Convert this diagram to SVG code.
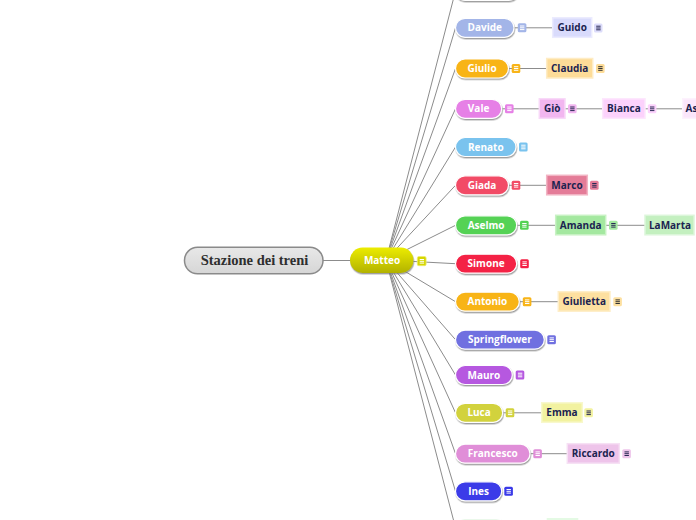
<svg xmlns="http://www.w3.org/2000/svg" xmlns:xlink="http://www.w3.org/1999/xlink" width="696" height="520" viewBox="0 0 696 520">
<defs>
<style>
.ln{stroke:#8c8c8c;stroke-width:1;fill:none}
.c text{font-family:"Open Sans","Noto Sans",sans-serif;font-weight:bold;font-size:10px;fill:#fff;text-anchor:middle}
.g text{font-family:"Open Sans","Noto Sans",sans-serif;font-weight:bold;font-size:10px;fill:#1b2350;text-anchor:middle}
.p{stroke:#fff;stroke-width:1.2;filter:url(#sh)}
.b{stroke-width:1.5}
</style>
<filter id="sh" x="-20%" y="-30%" width="140%" height="170%">
<feDropShadow dx="0.6" dy="1.4" stdDeviation="0.7" flood-color="#777" flood-opacity="0.7"/>
</filter>
<linearGradient id="gm" x1="0" y1="0" x2="0" y2="1">
<stop offset="0" stop-color="#ecec00"/><stop offset="1" stop-color="#b2b200"/>
</linearGradient>
<linearGradient id="gr" x1="0" y1="0" x2="0" y2="1">
<stop offset="0" stop-color="#e8e8e8"/><stop offset="1" stop-color="#d6d6d6"/>
</linearGradient>
<path id="nl" d="M2.2 2.7h4.4M2.2 4.5h4.4M2.2 6.3h4.4" stroke-width="1" fill="none"/>
</defs>
<rect width="696" height="520" fill="#fff"/>

<g id="connectors">
<line class="ln" x1="323" y1="260.5" x2="350" y2="260.5"/>
<line class="ln" x1="386" y1="260" x2="455.5" y2="-9"/>
<line class="ln" x1="386" y1="260" x2="455.5" y2="27.8"/>
<line class="ln" x1="386" y1="260" x2="455.5" y2="68.5"/>
<line class="ln" x1="386" y1="260" x2="455.5" y2="108.8"/>
<line class="ln" x1="386" y1="260" x2="455.5" y2="147"/>
<line class="ln" x1="386" y1="260" x2="455.5" y2="185.3"/>
<line class="ln" x1="386" y1="260" x2="455.5" y2="225.3"/>
<line class="ln" x1="386" y1="260" x2="455.5" y2="263.7"/>
<line class="ln" x1="386" y1="260" x2="455.5" y2="301.7"/>
<line class="ln" x1="386" y1="260" x2="455.5" y2="339.7"/>
<line class="ln" x1="386" y1="260" x2="455.5" y2="375"/>
<line class="ln" x1="386" y1="260" x2="455.5" y2="412.8"/>
<line class="ln" x1="386" y1="260" x2="455.5" y2="453.7"/>
<line class="ln" x1="386" y1="260" x2="455.5" y2="491.3"/>
<line class="ln" x1="386" y1="260" x2="455.5" y2="527.8"/>
<line class="ln" x1="514" y1="27.8" x2="552.7" y2="27.8"/>
<line class="ln" x1="508.5" y1="68.5" x2="546.7" y2="68.5"/>
<line class="ln" x1="501.7" y1="108.8" x2="539.3" y2="108.8"/>
<line class="ln" x1="565" y1="108.8" x2="602.7" y2="108.8"/>
<line class="ln" x1="645" y1="108.8" x2="682.7" y2="108.8"/>
<line class="ln" x1="508.5" y1="185.3" x2="546.7" y2="185.3"/>
<line class="ln" x1="516.7" y1="225.3" x2="555.7" y2="225.3"/>
<line class="ln" x1="605.7" y1="225.3" x2="645" y2="225.3"/>
<line class="ln" x1="519.3" y1="301.7" x2="558.3" y2="301.7"/>
<line class="ln" x1="502.7" y1="412.8" x2="541.7" y2="412.8"/>
<line class="ln" x1="530" y1="453.7" x2="567.3" y2="453.7"/>
<line class="ln" x1="505.5" y1="527.8" x2="546.7" y2="527.8"/>
</g>

<g id="root">
<rect x="184.5" y="247.3" width="138.5" height="26.5" rx="13" fill="url(#gr)" stroke="#8a8a8a" stroke-width="1.5"/>
<text x="254.5" y="265.3" font-family="'Liberation Serif',serif" font-weight="bold" font-size="14.5" fill="#2e2e2e" text-anchor="middle">Stazione dei treni</text>
</g>

<g id="matteo" class="c">
<rect x="350" y="247.5" width="63.5" height="25.5" rx="12.5" fill="url(#gm)" filter="url(#sh)"/>
<text x="382" y="264">Matteo</text>
<rect x="417.3" y="256.5" width="8.8" height="9.2" rx="1.5" fill="#d6d600" stroke="#eeee70" stroke-width="0.8"/>
<use xlink:href="#nl" x="417.5" y="256.8" stroke="#fff"/>
</g>

<g id="top" class="c">
<rect class="p" x="455.5" y="-18.5" width="62.5" height="19" rx="9.5" fill="#e4e4e4"/>
</g>

<g id="davide" class="c">
<rect class="p" x="455.5" y="18.3" width="58.5" height="19" rx="9.5" fill="#a3b5e8"/>
<text x="484.8" y="31.3">Davide</text>
<rect x="517.8" y="23.3" width="8.6" height="9" rx="1.5" fill="#a3b5e8"/>
<use xlink:href="#nl" x="517.8" y="23.3" stroke="#fff"/>
</g>
<g id="guido" class="g">
<rect class="b" x="552.7" y="17.8" width="39" height="19.5" fill="#d9dbfc" stroke="#ebebfe"/>
<text x="572.2" y="31.3">Guido</text>
<rect x="594" y="23.5" width="8.5" height="9" rx="1.5" fill="#dcdcfa"/>
<use xlink:href="#nl" x="594" y="23.5" stroke="#2a2a55"/>
</g>

<g id="giulio" class="c">
<rect class="p" x="455.5" y="59" width="53" height="19" rx="9.5" fill="#f8b418"/>
<text x="482" y="72">Giulio</text>
<rect x="511.7" y="64" width="8.6" height="9" rx="1.5" fill="#f8b418"/>
<use xlink:href="#nl" x="511.7" y="64" stroke="#fff"/>
</g>
<g id="claudia" class="g">
<rect class="b" x="546.7" y="58.5" width="46" height="19.5" fill="#fddc98" stroke="#feecc4"/>
<text x="569.7" y="72">Claudia</text>
<rect x="596" y="64" width="8.6" height="9" rx="1.5" fill="#fddc98"/>
<use xlink:href="#nl" x="596" y="64" stroke="#333"/>
</g>

<g id="vale" class="c">
<rect class="p" x="455.5" y="99.3" width="46.2" height="19" rx="9.5" fill="#e680e6"/>
<text x="478.6" y="112.3">Vale</text>
<rect x="505" y="104.3" width="8.6" height="9" rx="1.5" fill="#e680e6"/>
<use xlink:href="#nl" x="505" y="104.3" stroke="#fff"/>
</g>
<g id="gio" class="g">
<rect class="b" x="539.3" y="98.8" width="25.7" height="19.5" fill="#f2b6f0" stroke="#f8d8f8"/>
<text x="552.2" y="112.3">Giò</text>
<rect x="568" y="104.3" width="8.6" height="9" rx="1.5" fill="#f2b6f0"/>
<use xlink:href="#nl" x="568" y="104.3" stroke="#2a2a55"/>
</g>
<g id="bianca" class="g">
<rect class="b" x="602.7" y="98.8" width="42.3" height="19.5" fill="#fcd2fc" stroke="#fde6fd"/>
<text x="623.9" y="112.3">Bianca</text>
<rect x="647.8" y="104.3" width="8.6" height="9" rx="1.5" fill="#fcd2fc"/>
<use xlink:href="#nl" x="647.8" y="104.3" stroke="#2a2a55"/>
</g>
<g id="as" class="g">
<rect class="b" x="682.7" y="98.8" width="30" height="19.5" fill="#fbe6fb" stroke="#fdf2fd"/>
<text x="685.5" y="112.3" style="text-anchor:start">As</text>
</g>

<g id="renato" class="c">
<rect class="p" x="455.5" y="137.5" width="60.5" height="19" rx="9.5" fill="#7ac3ee"/>
<text x="485.8" y="150.5">Renato</text>
<rect x="519" y="142.5" width="8.6" height="9" rx="1.5" fill="#7ac3ee"/>
<use xlink:href="#nl" x="519" y="142.5" stroke="#fff"/>
</g>

<g id="giada" class="c">
<rect class="p" x="455.5" y="175.8" width="53" height="19" rx="9.5" fill="#f24b66"/>
<text x="482" y="188.8">Giada</text>
<rect x="511.7" y="180.8" width="8.6" height="9" rx="1.5" fill="#f24b66"/>
<use xlink:href="#nl" x="511.7" y="180.8" stroke="#fff"/>
</g>
<g id="marco" class="g">
<rect class="b" x="546.7" y="175.3" width="40.6" height="19.5" fill="#e47c98" stroke="#f2b4c4"/>
<text x="567" y="188.8">Marco</text>
<rect x="590" y="180.8" width="8.6" height="9" rx="1.5" fill="#e47c98"/>
<use xlink:href="#nl" x="590" y="180.8" stroke="#2a2a55"/>
</g>

<g id="aselmo" class="c">
<rect class="p" x="455.5" y="215.8" width="61.2" height="19" rx="9.5" fill="#54d254"/>
<text x="486.1" y="228.8">Aselmo</text>
<rect x="520" y="220.8" width="8.6" height="9" rx="1.5" fill="#54d254"/>
<use xlink:href="#nl" x="520" y="220.8" stroke="#fff"/>
</g>
<g id="amanda" class="g">
<rect class="b" x="555.7" y="215.3" width="50" height="19.5" fill="#a4e8a0" stroke="#c8f2c4"/>
<text x="580.7" y="228.8">Amanda</text>
<rect x="609" y="220.8" width="8.6" height="9" rx="1.5" fill="#a4e8a0"/>
<use xlink:href="#nl" x="609" y="220.8" stroke="#2a2a55"/>
</g>
<g id="lamarta" class="g">
<rect class="b" x="645" y="215.3" width="49" height="19.5" fill="#c4f0c0" stroke="#dcf6da"/>
<text x="670" y="228.8">LaMarta</text>
</g>

<g id="simone" class="c">
<rect class="p" x="455.5" y="254.2" width="61.2" height="19" rx="9.5" fill="#f42044"/>
<text x="486.1" y="267.2">Simone</text>
<rect x="520.2" y="259.2" width="8.6" height="9" rx="1.5" fill="#f42044"/>
<use xlink:href="#nl" x="520.2" y="259.2" stroke="#fff"/>
</g>

<g id="antonio" class="c">
<rect class="p" x="455.5" y="292.2" width="63.8" height="19" rx="9.5" fill="#f8b418"/>
<text x="487.4" y="305.2">Antonio</text>
<rect x="522.8" y="297.2" width="8.6" height="9" rx="1.5" fill="#f8b418"/>
<use xlink:href="#nl" x="522.8" y="297.2" stroke="#fff"/>
</g>
<g id="giulietta" class="g">
<rect class="b" x="558.3" y="291.7" width="51.7" height="19.5" fill="#fde0a0" stroke="#feeec8"/>
<text x="584.2" y="305.2">Giulietta</text>
<rect x="613.3" y="297.2" width="8.6" height="9" rx="1.5" fill="#fde0a0"/>
<use xlink:href="#nl" x="613.3" y="297.2" stroke="#333"/>
</g>

<g id="springflower" class="c">
<rect class="p" x="455.5" y="330.2" width="88.8" height="19" rx="9.5" fill="#7070e0"/>
<text x="499.9" y="343.2">Springflower</text>
<rect x="547.3" y="335.2" width="8.6" height="9" rx="1.5" fill="#7070e0"/>
<use xlink:href="#nl" x="547.3" y="335.2" stroke="#fff"/>
</g>

<g id="mauro" class="c">
<rect class="p" x="455.5" y="365.5" width="56.8" height="19" rx="9.5" fill="#b658e0"/>
<text x="483.9" y="378.5">Mauro</text>
<rect x="515.7" y="370.5" width="8.6" height="9" rx="1.5" fill="#b658e0"/>
<use xlink:href="#nl" x="515.7" y="370.5" stroke="#fff"/>
</g>

<g id="luca" class="c">
<rect class="p" x="455.5" y="403.3" width="47.2" height="19" rx="9.5" fill="#d2d23c"/>
<text x="479.1" y="416.3">Luca</text>
<rect x="505.7" y="408.3" width="8.6" height="9" rx="1.5" fill="#d2d23c"/>
<use xlink:href="#nl" x="505.7" y="408.3" stroke="#fff"/>
</g>
<g id="emma" class="g">
<rect class="b" x="541.7" y="402.8" width="40.6" height="19.5" fill="#f2f2a0" stroke="#f8f8cc"/>
<text x="562" y="416.3">Emma</text>
<rect x="584.3" y="408.3" width="8.6" height="9" rx="1.5" fill="#f2f2a0"/>
<use xlink:href="#nl" x="584.3" y="408.3" stroke="#2a2a55"/>
</g>

<g id="francesco" class="c">
<rect class="p" x="455.5" y="444.2" width="74.5" height="19" rx="9.5" fill="#e08ed8"/>
<text x="492.8" y="457.2">Francesco</text>
<rect x="533.3" y="449.2" width="8.6" height="9" rx="1.5" fill="#e08ed8"/>
<use xlink:href="#nl" x="533.3" y="449.2" stroke="#fff"/>
</g>
<g id="riccardo" class="g">
<rect class="b" x="567.3" y="443.7" width="52" height="19.5" fill="#eec4ea" stroke="#f6e0f4"/>
<text x="593.3" y="457.2">Riccardo</text>
<rect x="622.3" y="449.2" width="8.6" height="9" rx="1.5" fill="#eec4ea"/>
<use xlink:href="#nl" x="622.3" y="449.2" stroke="#2a2a55"/>
</g>

<g id="ines" class="c">
<rect class="p" x="455.5" y="481.8" width="46.2" height="19" rx="9.5" fill="#3a3ae8"/>
<text x="478.6" y="494.8">Ines</text>
<rect x="504.3" y="486.8" width="8.6" height="9" rx="1.5" fill="#3a3ae8"/>
<use xlink:href="#nl" x="504.3" y="486.8" stroke="#fff"/>
</g>

<g id="bottom" class="c">
<rect class="p" x="455.5" y="518.3" width="50" height="19" rx="9.5" fill="#eaf8ea"/>
</g>
<g id="bottom-child" class="g">
<rect x="546.7" y="518" width="31.6" height="19.5" fill="#e4fae4"/>
</g>
</svg>
